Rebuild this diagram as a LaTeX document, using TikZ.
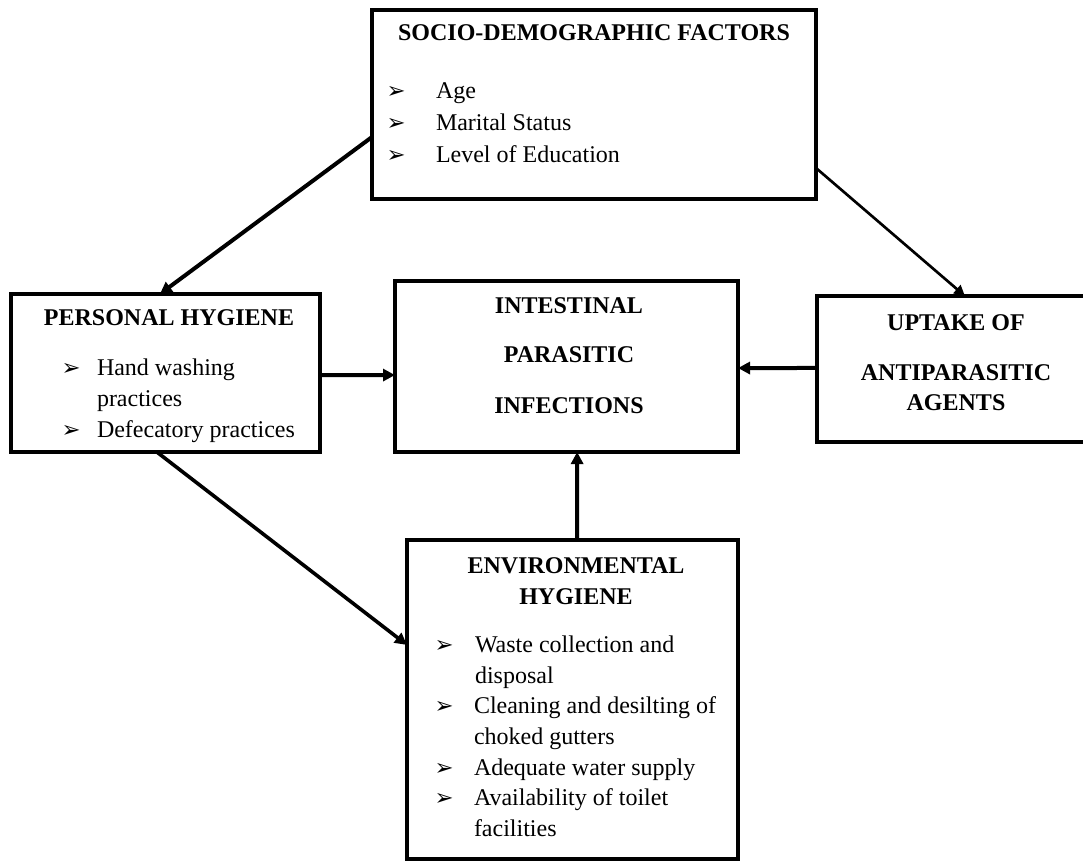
\documentclass[tikz,border=0pt]{standalone}
\usepackage{fontspec}
\setmainfont{Liberation Serif}
\newfontfamily\symfont{DejaVu Sans}
\usetikzlibrary{arrows.meta,calc}
\begin{document}
\begin{tikzpicture}[x=0.75pt,y=-0.75pt,
  box/.style={draw, line width=3pt, inner sep=0pt, outer sep=0pt, anchor=north west},
  ttl/.style={inner sep=0pt, outer sep=0pt, font=\fontsize{18}{23}\selectfont\bfseries, anchor=base},
  itm/.style={inner sep=0pt, outer sep=0pt, font=\fontsize{18}{23}\selectfont, anchor=base west},
  bul/.style={inner sep=0pt, outer sep=0pt, font=\symfont\fontsize{17}{19}\selectfont, anchor=base},
  conn/.style={line width=3pt, -{Triangle[length=9pt,width=9pt]}},
  thinconn/.style={line width=2pt, -{Triangle[length=8pt,width=8pt]}}
]
\clip (0,0) rectangle (1083,861);
\useasboundingbox (0,0) rectangle (1083,861);

% boxes
\node[box, minimum width=333pt, minimum height=141.75pt] (socio) at (372,10) {};
\node[box, minimum width=231.75pt, minimum height=118.5pt] (pers) at (11,294) {};
\node[box, minimum width=257.25pt, minimum height=128.25pt] (ipi) at (395,281) {};
\node[box, minimum width=204.75pt, minimum height=109.5pt] (upt) at (817,296) {};
\node[box, minimum width=248.25pt, minimum height=239.25pt] (env) at (407,540) {};

% socio-demographic text
\node[ttl] (sT) at (594,40) {SOCIO-DEMOGRAPHIC FACTORS};
\node[bul] (sb1) at (396,98) {➢};
\node[itm] (s1) at (436,98) {Age};
\node[bul] (sb2) at (396,130) {➢};
\node[itm] (s2) at (436,130) {Marital Status};
\node[bul] (sb3) at (396,162) {➢};
\node[itm] (s3) at (436,162) {Level of Education};

% personal hygiene text
\node[ttl] (pT) at (169,325) {PERSONAL HYGIENE};
\node[bul] (pb1) at (71,375) {➢};
\node[itm] (p1) at (97,375) {Hand washing};
\node[itm] (p1b) at (97,406) {practices};
\node[bul] (pb2) at (71,437) {➢};
\node[itm] (p2) at (97,437) {Defecatory practices};

% intestinal parasitic infections
\node[ttl] (i1) at (569,313) {INTESTINAL};
\node[ttl] (i2) at (569,362) {PARASITIC};
\node[ttl] (i3) at (569,413) {INFECTIONS};

% uptake
\node[ttl] (u1) at (956,330) {UPTAKE OF};
\node[ttl] (u2) at (956,380) {ANTIPARASITIC};
\node[ttl] (u3) at (956,410) {AGENTS};

% environmental hygiene
\node[ttl] (eT1) at (576,573) {ENVIRONMENTAL};
\node[ttl] (eT2) at (576,604) {HYGIENE};
\node[bul] (eb1) at (444,652) {➢};
\node[itm] (e1) at (475,652) {Waste collection and};
\node[itm] (e1b) at (475,683) {disposal};
\node[bul] (eb2) at (444,713) {➢};
\node[itm] (e2) at (474,713) {Cleaning and desilting of};
\node[itm] (e2b) at (474,744) {choked gutters};
\node[bul] (eb3) at (444,775) {➢};
\node[itm] (e3) at (474,775) {Adequate water supply};
\node[bul] (eb4) at (444,805) {➢};
\node[itm] (e4) at (474,805) {Availability of toilet};
\node[itm] (e4b) at (474,836) {facilities};

% connectors
\draw[conn] ($(socio.north west)!0.672!(socio.south west)$) -- ($(pers.north west)!0.482!(pers.north east)$);
\draw[thinconn] ($(socio.north east)!0.836!(socio.south east)$) -- ($(upt.north west)!0.542!(upt.north east)$);
\draw[conn] ($(pers.north east)!0.513!(pers.south east)$) -- ($(ipi.north west)!0.55!(ipi.south west)$);
\draw[conn] ($(upt.north west)!0.493!(upt.south west)$) -- ($(ipi.north east)!0.509!(ipi.south east)$);
\draw[conn] ($(env.north west)!0.514!(env.north east)$) -- ($(ipi.south west)!0.531!(ipi.south east)$);
\draw[line width=2.7pt, -{Triangle[length=9pt,width=9pt]}] ($(pers.south west)!0.472!(pers.south east)$) -- ($(env.north west)!0.329!(env.south west)$);
\end{tikzpicture}
\end{document}
